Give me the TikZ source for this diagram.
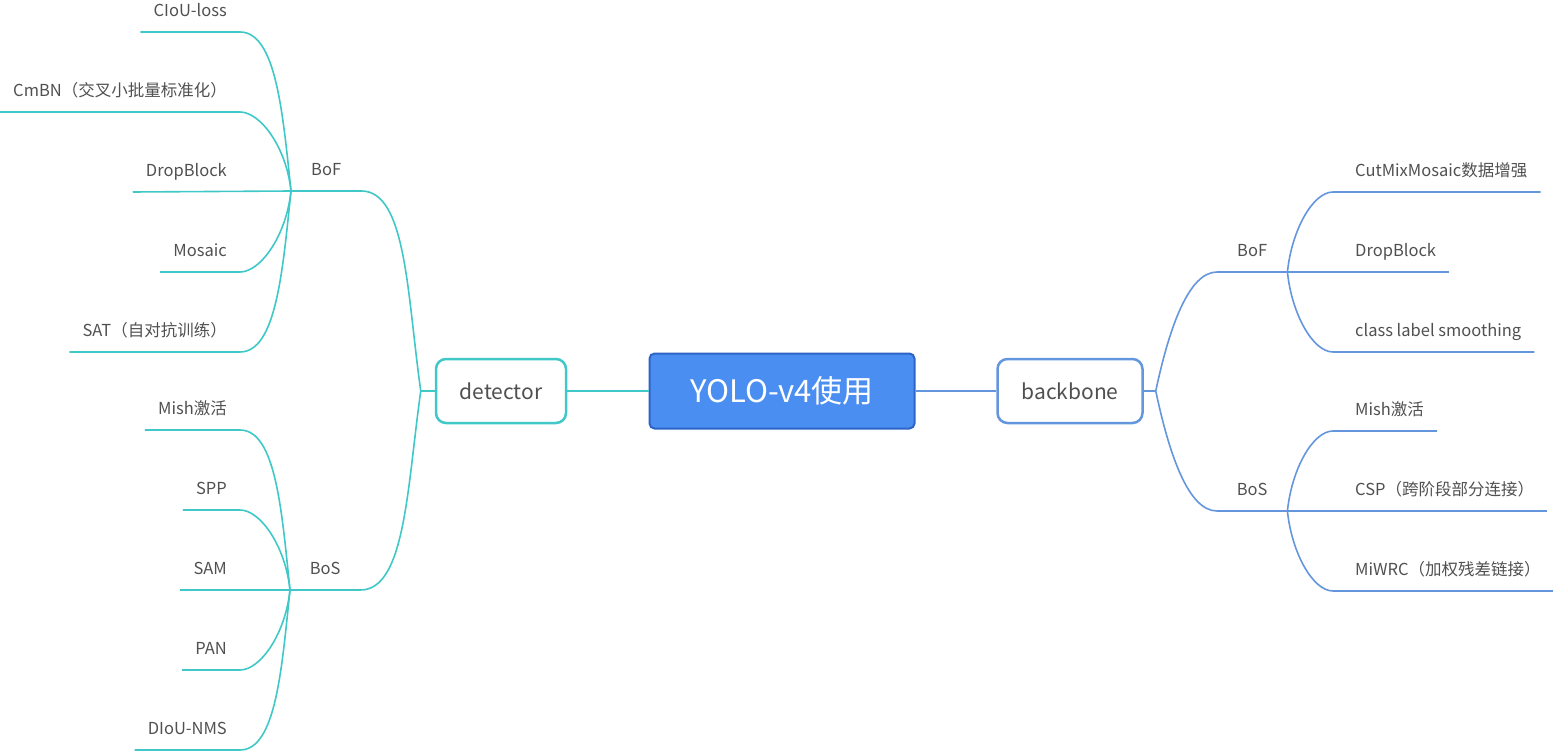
\documentclass[tikz,border=0pt]{standalone}
\usepackage{fontspec}
\setmainfont{Noto Sans CJK SC}
\usetikzlibrary{positioning}
\definecolor{detcyan}{RGB}{64,200,200}
\definecolor{backblue}{RGB}{100,150,222}
\definecolor{rootblue}{RGB}{74,142,242}
\definecolor{rootedge}{RGB}{45,100,200}
\definecolor{txtgray}{RGB}{80,80,80}

\begin{document}
\begin{tikzpicture}[
    x=1pt, y=-1pt,
    root/.style={
        rectangle,
        rounded corners=5pt,
        draw=rootedge,
        line width=2pt,
        fill=rootblue,
        text=white,
        minimum width=265pt,
        minimum height=75pt,
        font=\fontsize{31}{33}\selectfont
    },
    topic/.style={
        rectangle,
        rounded corners=10pt,
        line width=2.5pt,
        fill=white,
        text=txtgray,
        minimum height=64pt,
        font=\fontsize{21}{24}\selectfont
    },
    sub/.style={
        text=txtgray,
        font=\fontsize{16.5}{18}\selectfont,
        text height=12pt, text depth=4pt,
        inner ysep=11pt, inner xsep=0pt,
        minimum width=70pt
    },
    leaf/.style={
        text=txtgray,
        font=\fontsize{16.5}{18}\selectfont,
        text height=12pt, text depth=4pt,
        inner ysep=11pt, inner xsep=13pt
    },
    cline/.style={detcyan, line width=1.6pt},
    bline/.style={backblue, line width=1.6pt},
    twig/.style={out looseness=0.55, in looseness=1.2}
]
\useasboundingbox (0,0) rectangle (1553,754);

% ========== 中心与两个主题 ==========
\node[root] (yolo) at (782,391) {YOLO-v4使用};
\node[topic, draw=detcyan, minimum width=130pt] (det) at (501,391) {detector};
\node[topic, draw=backblue, minimum width=145pt] (back) at (1070,391) {backbone};
\coordinate[left=14pt of det.west] (detJ);
\coordinate[right=12pt of back.east] (backJ);

% ========== 二级:BoF / BoS ==========
\node[sub, anchor=south west] (dbof) at (291,191) {BoF};
\node[sub, anchor=south west] (dbos) at (290,590) {BoS};
\node[sub, anchor=south west] (bbof) at (1217,272) {BoF};
\node[sub, anchor=south west] (bbos) at (1217,511) {BoS};

% ========== 叶子:左侧 detector ==========
\foreach \name/\txt [count=\i from 0] in {a/CIoU-loss, b/CmBN（交叉小批量标准化）, c/DropBlock, d/Mosaic, e/SAT（自对抗训练）}
    \node[leaf, anchor=south east] (dbof\name) at (240,32+80*\i) {\txt};
\foreach \name/\txt [count=\i from 0] in {a/Mish激活, b/SPP, c/SAM, d/PAN, e/DIoU-NMS}
    \node[leaf, anchor=south east] (dbos\name) at (240,430+80*\i) {\txt};

% ========== 叶子:右侧 backbone ==========
\foreach \name/\txt [count=\i from 0] in {a/CutMixMosaic数据增强, b/DropBlock, c/class label smoothing}
    \node[leaf, anchor=south west] (bbof\name) at (1342,192+80*\i) {\txt};
\foreach \name/\txt [count=\i from 0] in {a/Mish激活, b/CSP（跨阶段部分连接）, c/MiWRC（加权残差链接）}
    \node[leaf, anchor=south west] (bbos\name) at (1342,431+80*\i) {\txt};

% ========== 连接线 ==========
\draw[cline] (det) -- (yolo);
\draw[bline] (yolo) -- (back);
\draw[cline] (detJ) -- (det.west);
\draw[bline] (back.east) -- (backJ);

% 主题到二级
\draw[cline, twig] (dbof.south west) -- (dbof.south east) to[out=0, in=98] (detJ);
\draw[cline, twig] (dbos.south west) -- (dbos.south east) to[out=0, in=262] (detJ);
\draw[bline, twig] (bbof.south east) -- (bbof.south west) to[out=180, in=78] (backJ);
\draw[bline, twig] (bbos.south east) -- (bbos.south west) to[out=180, in=282] (backJ);

% 左侧叶子
\foreach \name/\dir in {a/96, b/96, d/264, e/264} {
    \draw[cline, twig] (dbof\name.south west) -- (dbof\name.south east) to[out=0, in=\dir] (dbof.south west);
    \draw[cline, twig] (dbos\name.south west) -- (dbos\name.south east) to[out=0, in=\dir] (dbos.south west);
}
\draw[cline] (dbofc.south west) -- (dbof.south west);
\draw[cline] (dbosc.south west) -- (dbos.south west);

% 右侧叶子
\draw[bline, twig] (bbofa.south east) -- ([xshift=-9pt]bbofa.south west) to[out=180, in=84] (bbof.south east);
\draw[bline, twig] (bbofc.south east) -- ([xshift=-9pt]bbofc.south west) to[out=180, in=276] (bbof.south east);
\draw[bline] (bbofb.south east) -- (bbof.south east);
\draw[bline, twig] (bbosa.south east) -- ([xshift=-9pt]bbosa.south west) to[out=180, in=84] (bbos.south east);
\draw[bline, twig] (bbosc.south east) -- ([xshift=-9pt]bbosc.south west) to[out=180, in=276] (bbos.south east);
\draw[bline] (bbosb.south east) -- (bbos.south east);

\end{tikzpicture}
\end{document}
